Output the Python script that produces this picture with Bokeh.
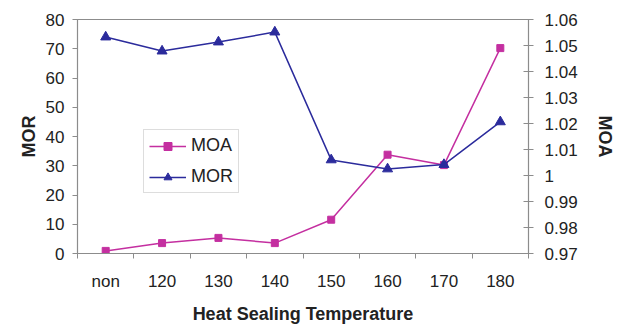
from bokeh.plotting import figure
from bokeh.models import (Range1d, LinearAxis, FixedTicker, CustomJSTickFormatter,
                          Legend, LegendItem)
from bokeh.embed import file_html
from bokeh.resources import INLINE

# Heat sealing temperatures (x categories)
categories = ["non", "120", "130", "140", "150", "160", "170", "180"]
# Modulus of rupture (left axis)
mor = [74.0, 69.2, 72.3, 75.7, 32.0, 28.9, 30.4, 45.0]
# Modulus of adhesion (right axis)
moa = [0.971, 0.974, 0.976, 0.974, 0.983, 1.008, 1.004, 1.049]

mor_ticks = [0, 10, 20, 30, 40, 50, 60, 70, 80]
moa_ticks = [0.97, 0.98, 0.99, 1.00, 1.01, 1.02, 1.03, 1.04, 1.05, 1.06]

MOA_COLOR = "#c42fa0"
MOR_COLOR = "#2b2b9c"
GRAY = "#8c8c8c"
FONT = "Liberation Sans"

xs = [i + 0.5 for i in range(len(categories))]

p = figure(width=617, height=326, output_backend="svg", toolbar_location=None,
           x_range=Range1d(0, len(categories)), y_range=Range1d(0, 80),
           min_border_left=77, min_border_right=82, min_border_top=19,
           min_border_bottom=72, x_axis_location="below")
p.extra_y_ranges = {"moa": Range1d(0.97, 1.06)}

p.background_fill_color = "white"
p.border_fill_color = "white"
p.outline_line_color = GRAY
p.outline_line_width = 1.2
p.xgrid.visible = False
p.ygrid.visible = False

# x axis: labels at category centres, tick marks at category boundaries
xa = p.xaxis[0]
xa.ticker = FixedTicker(ticks=xs, minor_ticks=list(range(len(categories) + 1)))
xa.formatter = CustomJSTickFormatter(args=dict(labels=categories),
                                     code="return labels[Math.floor(tick)];")
xa.major_tick_line_color = None
xa.minor_tick_line_color = GRAY
xa.minor_tick_out = 5
xa.minor_tick_in = 0
xa.axis_line_color = GRAY
xa.major_label_standoff = 12
xa.major_label_text_font = FONT
xa.major_label_text_font_size = "17px"
xa.major_label_text_color = "#222222"
xa.axis_label = "Heat Sealing Temperature"
xa.axis_label_text_font = FONT
xa.axis_label_text_font_style = "bold"
xa.axis_label_text_font_size = "18px"
xa.axis_label_text_color = "#222222"
xa.axis_label_standoff = 10

# left axis: MOR
ya = p.yaxis[0]
ya.ticker = FixedTicker(ticks=mor_ticks)
ya.axis_line_color = GRAY
ya.major_tick_line_color = GRAY
ya.major_tick_out = 5
ya.major_tick_in = 0
ya.minor_tick_line_color = None
ya.major_label_standoff = 8
ya.major_label_text_font = FONT
ya.major_label_text_font_size = "17px"
ya.major_label_text_color = "#222222"
ya.axis_label = "MOR"
ya.axis_label_text_font = FONT
ya.axis_label_text_font_style = "bold"
ya.axis_label_text_font_size = "18px"
ya.axis_label_text_color = "#222222"
ya.axis_label_standoff = 4

# right axis: MOA
ra = LinearAxis(y_range_name="moa", ticker=FixedTicker(ticks=moa_ticks),
                formatter=CustomJSTickFormatter(
                    code="return parseFloat(tick.toFixed(2)).toString();"))
ra.axis_line_color = GRAY
ra.major_tick_line_color = GRAY
ra.major_tick_out = 5
ra.major_tick_in = 5
ra.minor_tick_line_color = None
ra.major_label_standoff = 11
ra.major_label_text_font = FONT
ra.major_label_text_font_size = "17px"
ra.major_label_text_color = "#222222"
ra.axis_label = "MOA"
ra.axis_label_text_font = FONT
ra.axis_label_text_font_style = "bold"
ra.axis_label_text_font_size = "18px"
ra.axis_label_text_color = "#222222"
ra.axis_label_standoff = 14
p.add_layout(ra, "right")

# MOA series on the right axis
moa_line = p.line(xs, moa, y_range_name="moa", line_color=MOA_COLOR, line_width=1.5)
moa_pts = p.scatter(xs, moa, y_range_name="moa", marker="square", size=7,
                    fill_color=MOA_COLOR, line_color=MOA_COLOR)

# MOR series on the left axis
mor_line = p.line(xs, mor, line_color=MOR_COLOR, line_width=1.5)
mor_pts = p.scatter(xs, mor, marker="triangle", size=10,
                    fill_color=MOR_COLOR, line_color=MOR_COLOR)

legend = Legend(items=[LegendItem(label="MOA", renderers=[moa_line, moa_pts]),
                       LegendItem(label="MOR", renderers=[mor_line, mor_pts])],
                location=(66, 60), orientation="vertical")
legend.glyph_width = 37
legend.glyph_height = 20
legend.label_height = 20
legend.spacing = 10
legend.padding = 5
legend.margin = 0
legend.label_standoff = 5
legend.label_text_font = FONT
legend.label_text_font_size = "18px"
legend.label_text_color = "#222222"
legend.border_line_color = "#bbbbbb"
legend.border_line_width = 1
legend.background_fill_color = "white"
legend.background_fill_alpha = 1.0
p.add_layout(legend, "center")

open("out.html", "w").write(file_html(p, INLINE))
